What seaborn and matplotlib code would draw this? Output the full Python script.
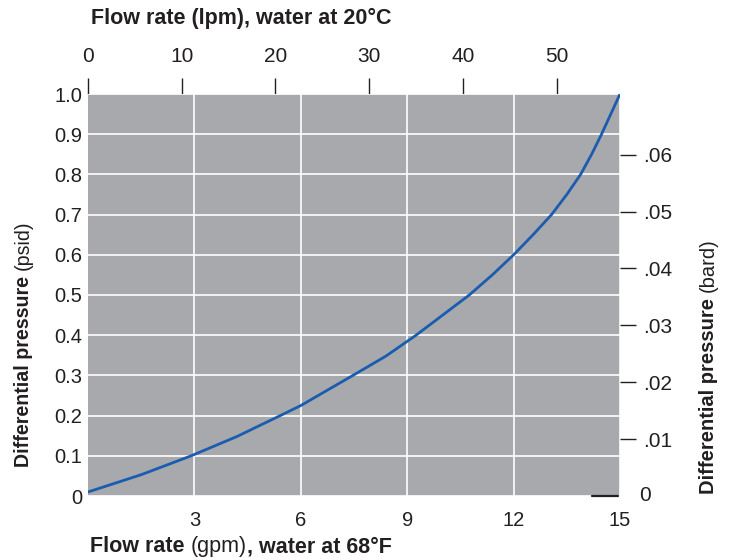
import numpy as np
import pandas as pd
import matplotlib.pyplot as plt
import seaborn as sns

# curve (gpm vs psid)
gpm = [0, 1.5, 2.91, 4.2, 5.42, 6.0, 7.47, 8.4, 9.25, 10.75, 11.4, 12.0,
       12.55, 13.07, 13.5, 13.89, 14.2, 14.48, 14.74, 15]
psid = [0.01, 0.053, 0.10, 0.148, 0.20, 0.225, 0.30, 0.348, 0.40, 0.50, 0.55, 0.60,
        0.65, 0.70, 0.75, 0.80, 0.85, 0.90, 0.95, 1.0]

gpm_ticks = [3, 6, 9, 12, 15]
psid_ticks = [0, 0.1, 0.2, 0.3, 0.4, 0.5, 0.6, 0.7, 0.8, 0.9, 1.0]
psid_labels = ["0", "0.1", "0.2", "0.3", "0.4", "0.5", "0.6", "0.7", "0.8", "0.9", "1.0"]
lpm_ticks = [0, 10, 20, 30, 40, 50]
bard_ticks = [0.01, 0.02, 0.03, 0.04, 0.05, 0.06]
bard_labels = [".01", ".02", ".03", ".04", ".05", ".06"]

LPM_PER_GPM = 3.785
PSI_PER_BAR = 14.15   # as spaced on the original right axis

df = pd.DataFrame({"gpm": gpm, "psid": psid})

GRAY = "#a7a9ac"
BLUE = "#1a5cb0"
TXT = "#231f20"

sns.set_theme(style="whitegrid", rc={
    "axes.facecolor": GRAY,
    "grid.color": "white",
    "grid.linewidth": 1.2,
    "axes.edgecolor": GRAY,
    "axes.linewidth": 0,
})
plt.rcParams['font.family'] = ['Liberation Sans', 'DejaVu Sans']
plt.rcParams['text.color'] = TXT
plt.rcParams['xtick.color'] = TXT
plt.rcParams['ytick.color'] = TXT

fig = plt.figure(figsize=(7.33, 5.6), dpi=100)
ax = fig.add_axes([88 / 733, 64 / 560, 532 / 733, 402 / 560])

sns.lineplot(data=df, x="gpm", y="psid", ax=ax, color=BLUE, linewidth=2.0)
ax.set_xlim(0, 15)
ax.set_ylim(0, 1)
ax.set_xticks(gpm_ticks)
ax.set_xticklabels([str(t) for t in gpm_ticks])
ax.set_yticks(psid_ticks)
ax.set_yticklabels(psid_labels)
ax.tick_params(axis="x", length=0, pad=11, labelsize=14.5)
ax.tick_params(axis="y", length=0, pad=4, labelsize=14.5)
ax.set_xlabel("")
ax.set_ylabel("")
for s in ax.spines.values():
    s.set_visible(False)

# small dark dash at the bottom right
ax.axhline(0, xmin=0.947, xmax=0.996, color=TXT, linewidth=1.6, clip_on=False)

# top axis in lpm
top = ax.secondary_xaxis("top", functions=(lambda x: x * LPM_PER_GPM,
                                            lambda x: x / LPM_PER_GPM))
top.set_xticks(lpm_ticks)
top.set_xticklabels([str(t) for t in lpm_ticks])
top.tick_params(direction="out", length=11.5, width=1, pad=9, labelsize=15, colors=TXT)
for s in top.spines.values():
    s.set_visible(False)

# right axis in bar
right = ax.secondary_yaxis("right", functions=(lambda y: y / PSI_PER_BAR,
                                                lambda y: y * PSI_PER_BAR))
right.set_yticks(bard_ticks)
right.set_yticklabels(bard_labels)
right.set_yticks([0.0004], minor=True)
right.set_yticklabels(["0"], minor=True)
right.tick_params(which="major", direction="out", length=11.5, width=1, pad=5,
                  labelsize=15, colors=TXT)
right.tick_params(which="minor", length=0, pad=13.5, labelsize=15, colors=TXT)
for s in right.spines.values():
    s.set_visible(False)


def mixed_label(x, y, parts, rotation=0, size=15):
    # parts: list of (text, weight), chained one after the other
    last = None
    for text, weight in parts:
        if last is None:
            last = fig.text(x, y, text, fontsize=size, fontweight=weight,
                            rotation=rotation, ha="left", va="baseline",
                            rotation_mode="anchor")
        else:
            xy = (1, 0) if rotation == 0 else (0, 1)
            last = plt.annotate(text, xy=xy, xycoords=last, fontsize=size,
                                fontweight=weight, rotation=rotation,
                                ha="left", va="bottom",
                                annotation_clip=False)


mixed_label(91 / 733, 1 - 24 / 560, [("Flow rate (lpm), water at 20°C", "bold")], size=15.5)
mixed_label(90 / 733, 1 - 552 / 560, [("Flow rate ", "bold"), ("(gpm)", "normal"),
                                      (", water at 68°F", "bold")], size=15.5)
mixed_label(29 / 733, 1 - 467 / 560, [("Differential pressure ", "bold"), ("(psid)", "normal")],
            rotation=90, size=14.1)
mixed_label(714 / 733, 1 - 494 / 560, [("Differential pressure ", "bold"), ("(bard)", "normal")],
            rotation=90, size=14.5)

fig.savefig("out.png", dpi=100)
